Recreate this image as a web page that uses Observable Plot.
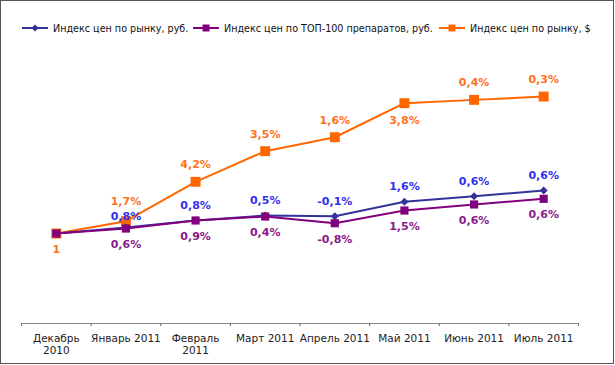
<!DOCTYPE html>
<html>
<head>
<meta charset="utf-8">
<script src="https://cdn.jsdelivr.net/npm/d3@7"></script>
<script src="https://cdn.jsdelivr.net/npm/@observablehq/plot@0.6"></script>
<style>
  html, body { margin: 0; padding: 0; background: #fff; }
  #frame { position: relative; width: 614px; height: 364px; box-sizing: border-box; border: 1px solid #555; background: #fff; font-family: "DejaVu Sans", Verdana, sans-serif; }
  #legend { position: relative; height: 45px; font-size: 9.6px; color: #111; }
  .item { position: absolute; top: 21px; height: 12px; display: flex; align-items: center; white-space: nowrap; }
  .item svg { margin-right: 5px; }
  #chart svg { display: block; }
</style>
</head>
<body>
<div id="frame">
  <div id="legend"></div>
  <div id="chart"></div>
</div>
<script>
const categories = ["Декабрь\n2010", "Январь 2011", "Февраль\n2011", "Март 2011", "Апрель 2011", "Май 2011", "Июнь 2011", "Июль 2011"];
const seriesNames = ["Индекс цен по рынку, руб.", "Индекс цен по ТОП-100 препаратов, руб.", "Индекс цен по рынку, $"];
const marketRub = [1.000, 1.0072, 1.0157, 1.0217, 1.0208, 1.0382, 1.0449, 1.0518];
const top100Rub = [1.000, 1.0060, 1.0157, 1.0205, 1.0124, 1.0277, 1.0350, 1.0418];
const marketUsd = [1.000, 1.0148, 1.0623, 1.0992, 1.1160, 1.1570, 1.1610, 1.1650];
const marketRubLabels = ["", "0,8%", "0,8%", "0,5%", "-0,1%", "1,6%", "0,6%", "0,6%"];
const top100RubLabels = ["", "0,6%", "0,9%", "0,4%", "-0,8%", "1,5%", "0,6%", "0,6%"];
const marketUsdLabels = ["1", "1,7%", "4,2%", "3,5%", "1,6%", "3,8%", "0,4%", "0,3%"];

const colors = { usdLine: "#FF6600", usdText: "#FF7020", rubLine: "#333399", rubText: "#3030F0", topLine: "#800080", topText: "#8A1A8A" };
const yMin = 0.8916, yMax = 1.2;
const idx = categories.map((_, i) => i);
const bounds = d3.range(categories.length + 1).map(i => i - 0.5);

// label placement (pixel offsets from each point), as in the original chart
const usdDy = i => (i === 0 ? 16 : i === 5 ? 17 : i === 1 ? -20 : -17);
const rubDy = i => (i === 1 ? -11 : -15);
const topDy = () => 16;

const rows = (vals, labels, dyf) => vals.map((v, i) => ({ i, v, label: labels[i], dy: dyf(i) }));
const usdRows = rows(marketUsd, marketUsdLabels, usdDy);
const rubRows = rows(marketRub, marketRubLabels, rubDy);
const topRows = rows(top100Rub, top100RubLabels, topDy);

// legend
const legend = document.getElementById("legend");
const legendDefs = [
  { name: seriesNames[0], color: colors.rubLine, shape: "diamond", left: 21 },
  { name: seriesNames[1], color: colors.topLine, shape: "square", left: 192 },
  { name: seriesNames[2], color: colors.usdLine, shape: "square", left: 438 }
];
for (const d of legendDefs) {
  const el = document.createElement("div");
  el.className = "item";
  el.style.left = d.left + "px";
  const marker = d.shape === "diamond"
    ? `<path d="M13,-3.5 L16.5,0 L13,3.5 L9.5,0 Z" fill="${d.color}"/>`
    : `<rect x="9.5" y="-3.5" width="7" height="7" fill="${d.color}"/>`;
  el.innerHTML = `<svg width="26" height="10" viewBox="0 -5 26 10"><line x1="0" x2="26" y1="0" y2="0" stroke="${d.color}" stroke-width="2"/>${marker}</svg><span>${d.name}</span>`;
  legend.appendChild(el);
}

const font = "DejaVu Sans, Verdana, sans-serif";
const labelText = (data, fill) => data.map(d => Plot.text([d], { x: "i", y: "v", text: "label", dy: d.dy, fill, fontWeight: "bold", fontSize: 11 }));
const chart = Plot.plot({
  width: 612,
  height: 317,
  marginLeft: 20,
  marginRight: 35,
  marginTop: 21,
  marginBottom: 40,
  style: { fontFamily: font, background: "#fff", overflow: "visible" },
  x: { type: "linear", domain: [-0.5, categories.length - 0.5], axis: null },
  y: { domain: [yMin, yMax], axis: null },
  marks: [
    Plot.ruleY([yMin], { stroke: "#888", strokeWidth: 1 }),
    Plot.axisX({ ticks: bounds, tickSize: 3, tickFormat: () => "", stroke: "#666", label: null }),
    Plot.text(idx, { x: d => d, y: () => yMin, text: d => categories[d], lineAnchor: "top", dy: 10, fontSize: 10.5, fill: "#222", lineHeight: 1.15 }),
    Plot.line(usdRows, { x: "i", y: "v", stroke: colors.usdLine, strokeWidth: 2 }),
    Plot.dot(usdRows, { x: "i", y: "v", symbol: "square", r: 5.6, fill: colors.usdLine, stroke: null }),
    Plot.line(rubRows, { x: "i", y: "v", stroke: colors.rubLine, strokeWidth: 2 }),
    Plot.dot(rubRows, { x: "i", y: "v", symbol: "diamond2", r: 3.6, fill: colors.rubLine, stroke: null }),
    Plot.line(topRows, { x: "i", y: "v", stroke: colors.topLine, strokeWidth: 2 }),
    Plot.dot(topRows, { x: "i", y: "v", symbol: "square", r: 4.6, fill: colors.topLine, stroke: null }),
    ...labelText(usdRows, colors.usdText),
    ...labelText(rubRows, colors.rubText),
    ...labelText(topRows, colors.topText)
  ]
});
document.getElementById("chart").appendChild(chart);
</script>
</body>
</html>
